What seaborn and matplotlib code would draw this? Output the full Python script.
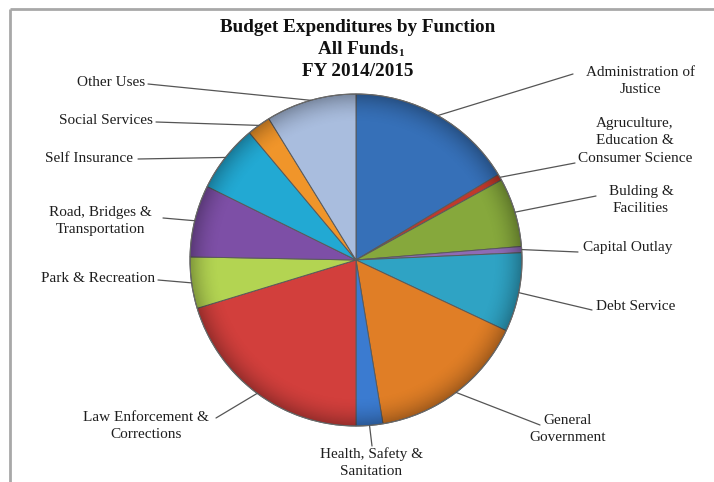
import numpy as np
import matplotlib
matplotlib.use("Agg")
import matplotlib.pyplot as plt
import seaborn as sns

# Budget shares by function (percent of all funds), clockwise from 12 o'clock
functions = [
    "Administration of\nJustice",
    "Agruculture,\nEducation &\nConsumer Science",
    "Bulding &\nFacilities",
    "Capital Outlay",
    "Debt Service",
    "General\nGovernment",
    "Health, Safety &\nSanitation",
    "Law Enforcement &\nCorrections",
    "Park & Recreation",
    "Road, Bridges &\nTransportation",
    "Self Insurance",
    "Social Services",
    "Other Uses",
]
shares = [16.4, 0.6, 6.7, 0.6, 7.7, 15.4, 2.6, 20.3, 5.0, 7.0, 6.6, 2.3, 8.8]
colors = [
    "#3670B8", "#C0392B", "#86A83C", "#8E6BB5", "#2FA3C4", "#E07E26",
    "#3B7BD0", "#D23F3C", "#B3D452", "#7D4FA6", "#22A9D3", "#F0952A",
    "#A9BDDE",
]

title_lines = ["Budget Expenditures by Function", "All Funds", "FY 2014/2015"]
title_note = "1"

sns.set_theme(style="white")
plt.rcParams["font.family"] = ["Liberation Serif", "DejaVu Serif"]

W, H = 714, 482
fig = plt.figure(figsize=(W / 100, H / 100), dpi=100)
ax = fig.add_axes([0, 0, 1, 1])

cx, cy, r = 356, H - 260, 166
wedges, _ = ax.pie(
    shares,
    colors=colors,
    startangle=90,
    counterclock=False,
    center=(cx, cy),
    radius=r,
    frame=True,
    wedgeprops=dict(edgecolor="#5a5a5a", linewidth=0.7),
)
ax.set_xlim(0, W)
ax.set_ylim(0, H)
ax.set_aspect("equal")
ax.axis("off")

# soft bevel: darken toward the rim with a radial overlay clipped to the pie
n = 400
yy, xx = np.mgrid[-1:1:n * 1j, -1:1:n * 1j]
rr = np.sqrt(xx ** 2 + yy ** 2)
shade = np.zeros((n, n, 4))
shade[..., 3] = np.clip((rr - 0.82) / 0.18, 0, 1) ** 2 * 0.28
img = ax.imshow(shade, extent=(cx - r, cx + r, cy - r, cy + r), zorder=3,
                interpolation="bilinear")
clip = plt.Circle((cx, cy), r, transform=ax.transData)
img.set_clip_path(clip)
ax.add_patch(plt.Circle((cx, cy), r, fill=False, edgecolor="#6a6a6a",
                        linewidth=0.8, zorder=4))

# label positions in pixel coordinates (x, y from top) and alignment
label_pos = [
    (640, 81, "center"),
    (635, 141, "center"),
    (641, 200, "center"),
    (628, 248, "center"),
    (636, 307, "center"),
    (568, 429, "center"),
    (371, 463, "center"),
    (146, 426, "center"),
    (155, 279, "right"),
    (100, 221, "center"),
    (133, 159, "right"),
    (153, 121, "right"),
    (145, 83, "right"),
]
# where the leader line meets the text (pixel coords)
line_end = [
    (573, 74), (575, 163), (596, 196), (578, 252), (592, 310), (540, 425),
    (372, 446), (216, 418), (158, 280), (163, 218), (138, 159), (156, 122),
    (148, 84),
]

total = float(sum(shares))
cum = 0.0
for i, w in enumerate(wedges):
    mid = 90 - 360 * (cum + shares[i] / 2) / total
    cum += shares[i]
    a = np.deg2rad(mid)
    px, py = cx + r * np.cos(a), cy + r * np.sin(a)
    tx, ty, ha = label_pos[i]
    ex, ey = line_end[i]
    ax.plot([px, ex], [py, H - ey], color="#555555", linewidth=0.9, zorder=5)
    ax.text(tx, H - ty, functions[i], ha=ha, va="center", fontsize=11,
            color="#1e1e1e", linespacing=1.42, zorder=6)

# three-line title, each line placed on its own baseline
for k, (line, ty) in enumerate(zip(title_lines, [28, 50, 72])):
    t = ax.text(358, H - ty, line, ha="center", va="center", fontsize=13.8,
                fontweight="bold", color="#111111", zorder=6)
    if k == 1:
        fig.canvas.draw()
        bb = t.get_window_extent().transformed(ax.transData.inverted())
        ax.text(bb.x1 + 0.5, H - ty - 4, title_note, ha="left", va="center",
                fontsize=8, fontweight="bold", color="#111111", zorder=6)

# chart frame (top and left edges visible)
ax.plot([10, W], [H - 9, H - 9], color="#a8a8a8", linewidth=2, zorder=1,
        solid_capstyle="butt")
ax.plot([10, 10], [H - 9, 0], color="#a8a8a8", linewidth=2, zorder=1,
        solid_capstyle="butt")

fig.savefig("out.png", dpi=100, facecolor="white")
